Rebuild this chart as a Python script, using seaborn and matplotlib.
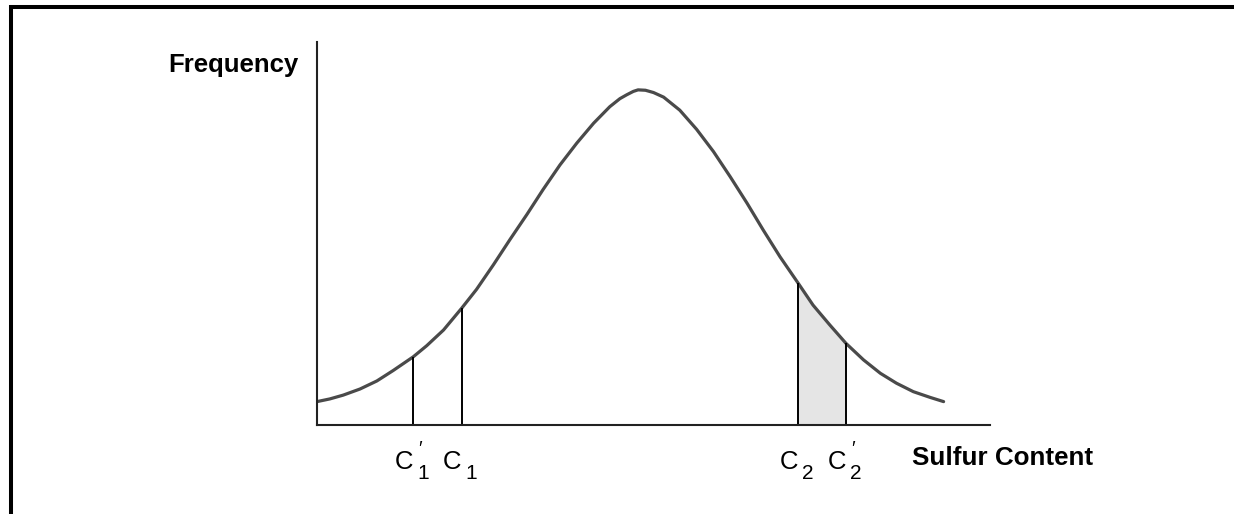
import numpy as np
import pandas as pd
import seaborn as sns
import matplotlib.pyplot as plt
from matplotlib.lines import Line2D
from matplotlib.transforms import offset_copy

# curve (x: sulfur content, y: frequency, arbitrary units 0-100)
sulfur = [0.0, 1.9, 3.9, 6.4, 8.9, 11.3, 14.3, 16.3, 18.8, 21.5, 23.7, 26.2,
          28.7, 31.2, 33.6, 36.1, 38.6, 41.1, 43.5, 45.0, 46.0, 47.0, 47.7,
          48.8, 50.0, 51.5, 53.9, 56.4, 58.9, 61.4, 63.9, 66.3, 68.8, 71.5,
          73.7, 76.2, 78.6, 81.2, 83.7, 86.1, 88.6, 91.1, 93.1]
freq = [6.1, 6.8, 7.8, 9.4, 11.5, 14.2, 17.8, 20.7, 24.8, 30.5, 35.4, 41.8,
        48.5, 55.0, 61.5, 67.9, 73.6, 78.8, 83.1, 85.2, 86.2, 87.1, 87.5,
        87.4, 86.8, 85.6, 82.2, 77.2, 71.4, 64.8, 57.9, 50.9, 43.9, 37.0,
        31.3, 26.1, 21.3, 17.0, 13.5, 10.9, 8.7, 7.2, 6.1]

# cut-off limits
cut_sub = ["1", "1", "2", "2"]
cut_prime = [True, False, False, True]
cut_x = [14.3, 21.5, 71.5, 78.6]
cut_h = [17.8, 30.5, 37.0, 21.3]

df = pd.DataFrame({"sulfur": sulfur, "freq": freq})

sns.set_style("white")
plt.rcParams['font.family'] = ['Liberation Sans', 'DejaVu Sans']
plt.rcParams['text.color'] = 'black'

fig = plt.figure(figsize=(12.34, 5.14), dpi=100)
ax = fig.add_axes([0.2569, 0.1732, 0.5454, 0.7451])

# shaded tail between C2 and C2'
tail = df[(df.sulfur >= cut_x[2]) & (df.sulfur <= cut_x[3])]
ax.fill_between(tail.sulfur, 0, tail.freq, color="#e5e5e5", lw=0)

sns.lineplot(x="sulfur", y="freq", data=df, ax=ax, color="#4a4a4a", lw=2.3)

base = ax.get_xaxis_transform()
for cx, ch, sub, pr in zip(cut_x, cut_h, cut_sub, cut_prime):
    ax.plot([cx, cx], [0, ch], color="black", lw=1.4, solid_capstyle="butt")
    ax.text(cx, -0.1149, "C", transform=base, ha="right", va="baseline",
            fontsize=18.5, color="black")
    ax.text(cx, -0.1149, sub,
            transform=offset_copy(base, fig=fig, x=4, y=-10, units="dots"),
            ha="left", va="baseline", fontsize=15, color="black")
    if pr:
        ax.text(cx, -0.1149, "\u2032",
                transform=offset_copy(base, fig=fig, x=5, y=15, units="dots"),
                ha="left", va="baseline", fontsize=14, color="black")

ax.set_xlim(0, 100)
ax.set_ylim(0, 100)
ax.set_xticks([])
ax.set_yticks([])
ax.set_xlabel("")
ax.set_ylabel("")
sns.despine(ax=ax)
for s in ["left", "bottom"]:
    ax.spines[s].set_linewidth(1.5)
    ax.spines[s].set_color("#222222")

ax.text(-0.028, 0.922, "Frequency", transform=ax.transAxes, ha="right",
        va="baseline", fontsize=18.5, fontweight="bold", color="black")
ax.text(0.884, -0.104, "Sulfur Content", transform=ax.transAxes, ha="left",
        va="baseline", fontsize=18.7, fontweight="bold", color="black")

# frame around the picture (top and left only)
fig.add_artist(Line2D([0.0081, 1.0], [0.9864, 0.9864], color="black", lw=2.9,
                      solid_capstyle="butt"))
fig.add_artist(Line2D([0.0089, 0.0089], [0.0, 0.99], color="black", lw=2.9,
                      solid_capstyle="butt"))

fig.savefig("out.png", dpi=100)
